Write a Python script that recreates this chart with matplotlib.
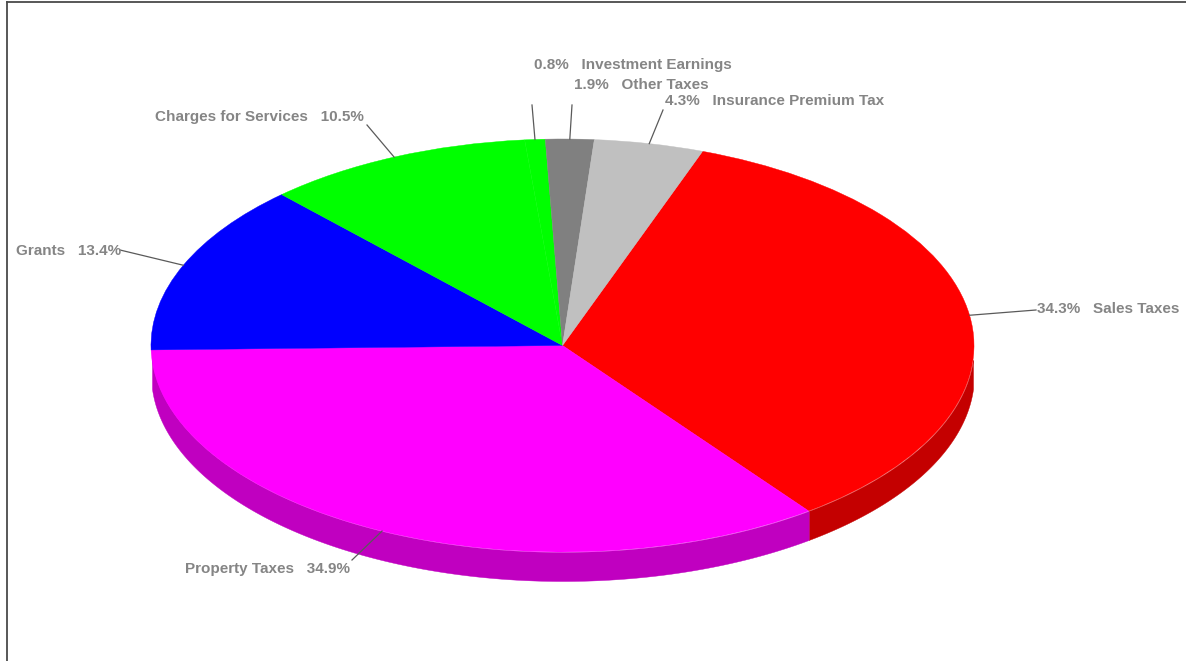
import numpy as np
import matplotlib
matplotlib.use("Agg")
import matplotlib.pyplot as plt

W, H = 1186, 661

# Revenue shares, clockwise from the Sales Taxes slice
categories = ["Sales Taxes", "Property Taxes", "Grants", "Charges for Services",
              "Investment Earnings", "Other Taxes", "Insurance Premium Tax"]
shares = [34.3, 34.9, 13.4, 10.5, 0.8, 1.9, 4.3]
top_colors = ["#ff0000", "#ff00ff", "#0000ff", "#00ff00", "#00ff00", "#808080", "#c0c0c0"]
side_colors = ["#c40000", "#c000c0", "#0000c0", "#00c000", "#00c000", "#606060", "#909090"]
label_text = ["34.3%   Sales Taxes", "Property Taxes   34.9%", "Grants   13.4%",
              "Charges for Services   10.5%", "0.8%   Investment Earnings",
              "1.9%   Other Taxes", "4.3%   Insurance Premium Tax"]

# Pie geometry in pixels
CX, CY, RX, RY, DEPTH = 562.5, 345.5, 411.5, 206.5, 29
START_ANGLE = 70.1

# The wall tapers in just short of the left and right extremes of the rim
WALL_FROM, WALL_TO = -176, -4

# Label anchors (left pixel, centre pixel) and the far end of each leader line
label_pos = [(1037, 309), (185, 569), (16, 251), (155, 117), (534, 65), (574, 85), (665, 101)]
leader_end = [(1036, 310), (352, 560), (120, 250), (367, 125), (532, 105), (572, 105), (663, 110)]


def px(x, y):
    """Convert pixel coordinates to pie data coordinates."""
    return (x - CX) / RX, (CY - y) / RY


fig = plt.figure(figsize=(W / 100, H / 100), dpi=100, facecolor="white")
ax = fig.add_axes([0, 0, 1, 1])

fracs = np.array(shares) / np.sum(shares)
edges = START_ANGLE - 360 * np.concatenate([[0], np.cumsum(fracs)])

# Side wall: only the part of each slice on the front half of the rim is visible
depth = DEPTH / RY
for a0, a1, col in zip(edges[:-1], edges[1:], side_colors):
    hi = np.mod(a0 + 180, 360) - 180
    lo = hi - (a0 - a1)
    hi_vis, lo_vis = min(hi, WALL_TO), max(lo, WALL_FROM)
    if hi_vis > lo_vis:
        t = np.radians(np.linspace(lo_vis, hi_vis, 200))
        ax.fill_between(np.cos(t), np.sin(t), np.sin(t) - depth, color=col, lw=0.3, zorder=1)

wedges, _ = ax.pie(shares, colors=top_colors, startangle=START_ANGLE, counterclock=False,
                   radius=1, center=(0, 0), normalize=True,
                   wedgeprops=dict(linewidth=0.3))
for w, c in zip(wedges, top_colors):
    w.set_edgecolor(c)
    w.set_zorder(2)

ax.set_aspect("auto")
x0, _ = px(0, 0)
x1, _ = px(W, 0)
_, y0 = px(0, H)
_, y1 = px(0, 0)
ax.set_xlim(x0, x1)
ax.set_ylim(y0, y1)
ax.axis("off")

# Leader lines run from the rim at each slice's mid angle out to its label
mids = np.radians((edges[:-1] + edges[1:]) / 2)
for m, end, pos, text in zip(mids, leader_end, label_pos, label_text):
    ex, ey = px(*end)
    ax.plot([np.cos(m), ex], [np.sin(m), ey], color="#5a5a5a", lw=0.9, zorder=3)
    tx, ty = px(*pos)
    ax.text(tx, ty, text, ha="left", va="center", fontsize=11, fontweight="bold",
            family="Liberation Sans", color="#858585", zorder=4)

# Frame along the left and top edges
ax.plot(*zip(px(7, 2), px(7, H)), color="#4a4a4a", lw=1.3, zorder=5)
ax.plot(*zip(px(7, 2), px(W, 2)), color="#4a4a4a", lw=1.3, zorder=5)

fig.savefig("out.png", dpi=100, facecolor="white")
